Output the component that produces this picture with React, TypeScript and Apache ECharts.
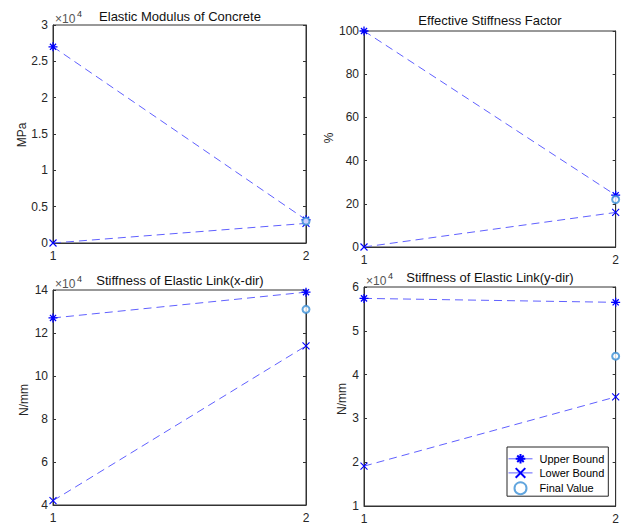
import React, { useEffect, useRef } from "react";
import * as echarts from "echarts";

const xs = [1, 2];

// Panel 1: Elastic Modulus of Concrete (MPa)
const emUpper = [27000, 3200];
const emLower = [0, 2700];
const emFinal = [3000];

// Panel 2: Effective Stiffness Factor (%)
const esUpper = [100, 24];
const esLower = [0, 16];
const esFinal = [22];

// Panel 3: Stiffness of Elastic Link (x-dir) (N/mm)
const kxUpper = [127000, 139000];
const kxLower = [42000, 114000];
const kxFinal = [131000];

// Panel 4: Stiffness of Elastic Link (y-dir) (N/mm)
const kyUpper = [57400, 56500];
const kyLower = [19100, 34900];
const kyFinal = [44200];

const titles = [
  "Elastic Modulus of Concrete",
  "Effective Stiffness Factor",
  "Stiffness of Elastic Link(x-dir)",
  "Stiffness of Elastic Link(y-dir)",
];
const yNames = ["MPa", "%", "N/mm", "N/mm"];
const legendNames = ["Upper Bound", "Lower Bound", "Final Value"];

const FONT = "'Liberation Sans', Arial, sans-serif";
const STAR = "path://M5,0L5,10M0,5L10,5M1.6,1.6L8.4,8.4M1.6,8.4L8.4,1.6";
const CROSS = "path://M0,0L10,10M0,10L10,0";

export default function App() {
  const ref = useRef<HTMLDivElement>(null);
  useEffect(() => {
    if (!ref.current) return;
    const chart = echarts.init(ref.current, null, { renderer: "svg" });

    const grids = [
      { left: 53, top: 25, width: 253, height: 218 },
      { left: 364, top: 31, width: 253, height: 216 },
      { left: 53, top: 290, width: 253, height: 215 },
      { left: 364, top: 287, width: 253, height: 219 },
    ];
    const yRanges = [
      { min: 0, max: 30000, interval: 5000, scale: 1e4 },
      { min: 0, max: 100, interval: 20, scale: 1 },
      { min: 40000, max: 140000, interval: 20000, scale: 1e4 },
      { min: 10000, max: 60000, interval: 10000, scale: 1e4 },
    ];
    const panels = [
      [emUpper, emLower, emFinal],
      [esUpper, esLower, esFinal],
      [kxUpper, kxLower, kxFinal],
      [kyUpper, kyLower, kyFinal],
    ];

    const xAxis: any[] = [];
    const yAxis: any[] = [];
    const series: any[] = [];
    grids.forEach((g, i) => {
      xAxis.push({
        type: "value",
        gridIndex: i,
        min: 1,
        max: 2,
        interval: 1,
        axisLine: { show: true, lineStyle: { color: "#333333", width: 1 } },
        axisTick: { show: false },
        splitLine: { show: false },
        axisLabel: { fontSize: 12, color: "#262626", fontFamily: FONT, margin: 7 },
      });
      const r = yRanges[i];
      yAxis.push({
        type: "value",
        gridIndex: i,
        min: r.min,
        max: r.max,
        interval: r.interval,
        axisLine: { show: true, lineStyle: { color: "#333333", width: 1 } },
        axisTick: { show: true, inside: true, length: 3, lineStyle: { color: "#333333" } },
        splitLine: { show: false },
        axisLabel: {
          fontSize: 12,
          color: "#262626",
          fontFamily: FONT,
          margin: 5,
          formatter: (v: number) => String(+(v / r.scale).toFixed(2)),
        },
      });
      yAxis.push({
        type: "value",
        gridIndex: i,
        position: "right",
        min: r.min,
        max: r.max,
        interval: r.interval,
        axisLine: { show: true, lineStyle: { color: "#333333", width: 1 } },
        axisTick: { show: true, inside: true, length: 3, lineStyle: { color: "#333333" } },
        splitLine: { show: false },
        axisLabel: { show: false },
      });
      const [up, lo, fin] = panels[i];
      series.push({
        name: legendNames[0],
        type: "line",
        xAxisIndex: i,
        yAxisIndex: i * 2,
        data: xs.map((x, k) => [x, up[k]]),
        symbol: STAR,
        symbolSize: 9,
        itemStyle: { color: "#0000ff", borderColor: "#0000ff", borderWidth: 1.3 },
        lineStyle: { color: "#6060ff", width: 1, type: [8, 5] },
        z: 3,
      });
      series.push({
        name: legendNames[1],
        type: "line",
        xAxisIndex: i,
        yAxisIndex: i * 2,
        data: xs.map((x, k) => [x, lo[k]]),
        symbol: CROSS,
        symbolSize: 7,
        itemStyle: { color: "#0000ff", borderColor: "#0000ff", borderWidth: 1.1 },
        lineStyle: { color: "#6060ff", width: 1, type: [8, 5] },
        z: 3,
      });
      series.push({
        name: legendNames[2],
        type: "scatter",
        xAxisIndex: i,
        yAxisIndex: i * 2,
        data: fin.map((v) => [2, v]),
        symbol: "emptyCircle",
        symbolSize: 7,
        itemStyle: { color: "#3a8fd6", borderColor: "#3a8fd6", borderWidth: 1.3 },
        z: 4,
      });
    });

    const titlePos = [
      [180, 16],
      [490, 20],
      [180, 280],
      [490, 277],
    ];
    const yNamePos = [
      [22, 135],
      [329, 138],
      [24, 400],
      [342, 399],
    ];
    const expPos: ([number, number] | null)[] = [[55, 19], null, [55, 284], [366, 281]];

    const graphic: any[] = [];
    titles.forEach((t, i) => {
      graphic.push({
        type: "text",
        x: titlePos[i][0],
        y: titlePos[i][1],
        style: {
          text: t,
          fill: "#111",
          font: `13px ${FONT}`,
          textAlign: "center",
          textVerticalAlign: "middle",
        },
      });
      graphic.push({
        type: "text",
        x: yNamePos[i][0],
        y: yNamePos[i][1],
        rotation: Math.PI / 2,
        style: {
          text: yNames[i],
          fill: "#262626",
          font: `12px ${FONT}`,
          textAlign: "center",
          textVerticalAlign: "middle",
        },
      });
      const e = expPos[i];
      if (e) {
        graphic.push({
          type: "text",
          x: e[0],
          y: e[1],
          style: {
            text: "×10",
            fill: "#555",
            font: `12px ${FONT}`,
            textAlign: "left",
            textVerticalAlign: "middle",
          },
        });
        graphic.push({
          type: "text",
          x: e[0] + 22,
          y: e[1] - 5,
          style: {
            text: "4",
            fill: "#333",
            font: `9px ${FONT}`,
            textAlign: "left",
            textVerticalAlign: "middle",
          },
        });
      }
    });

    chart.setOption({
      animation: false,
      backgroundColor: "#ffffff",
      grid: grids.map((g) => ({ ...g, show: true, borderColor: "#333333", borderWidth: 1, backgroundColor: "transparent" })),
      xAxis,
      yAxis,
      series,
      legend: {
        data: legendNames,
        orient: "vertical",
        left: 507,
        top: 447,
        padding: [6, 4, 1, 1],
        itemGap: 2.5,
        itemWidth: 24,
        itemHeight: 12,
        borderColor: "#262626",
        borderWidth: 1,
        backgroundColor: "#ffffff",
        selectedMode: false,
        lineStyle: { type: "solid", width: 1 },
        textStyle: { fontSize: 11, color: "#000", fontFamily: FONT, padding: [0, 0, 0, 2] },
      },
      graphic,
    });
    return () => chart.dispose();
  }, []);
  return <div ref={ref} style={{ width: 622, height: 525, position: "absolute", left: 0, top: 0 }} />;
}
